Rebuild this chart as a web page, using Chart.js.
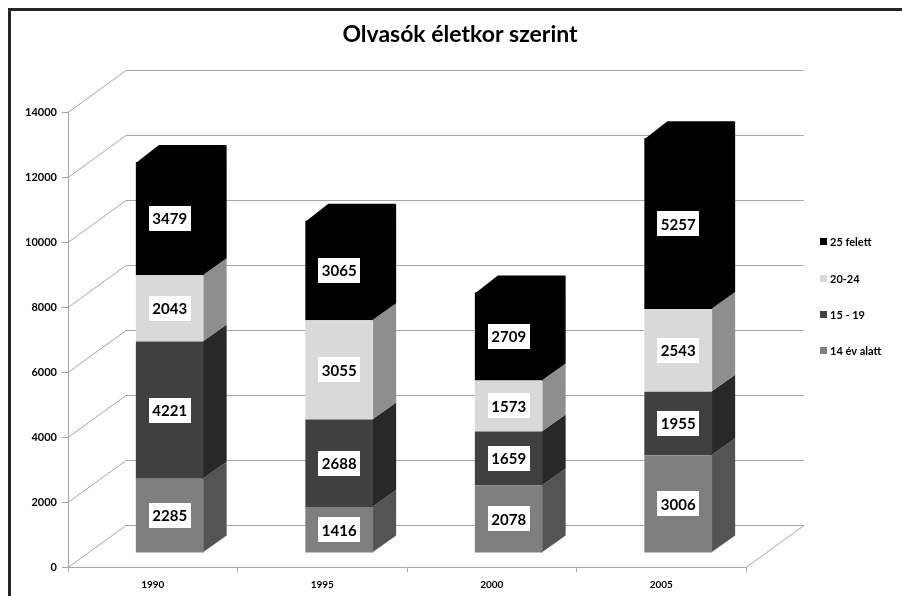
<!DOCTYPE html>
<html>
<head>
<meta charset="utf-8">
<script src="https://cdn.jsdelivr.net/npm/chart.js@4.4.1/dist/chart.umd.min.js"></script>
<style>
  html, body { margin: 0; padding: 0; background: #ffffff; }
  #wrap { position: relative; width: 902px; height: 596px; }
</style>
</head>
<body>
<div id="wrap"><canvas id="chart" width="902" height="596"></canvas></div>
<script>
// Data
const years = ["1990", "1995", "2000", "2005"];
const under14 = [2285, 1416, 2078, 3006];
const age15to19 = [4221, 2688, 1659, 1955];
const age20to24 = [2043, 3055, 1573, 2543];
const over25 = [3479, 3065, 2709, 5257];
const seriesNames = ["14 év alatt", "15 - 19", "20-24", "25 felett"];
const chartTitle = "Olvasók életkor szerint";
const yMax = 14000;
const yStep = 2000;

const COLORS = {
  UNDER14: "#7f7f7f",
  UNDER14_SIDE: "#545454",
  AGE15: "#404040",
  AGE15_SIDE: "#282828",
  AGE20: "#d9d9d9",
  AGE20_SIDE: "#8e8e8e",
  OVER25: "#000000",
  OVER25_SIDE: "#000000",
  GRID: "#a6a6a6",
  FRAME: "#262626",
  TEXT: "#000000",
  WHITE: "#ffffff"
};

const FONT = "Lato, sans-serif";

// fake 3D offsets (Excel style perspective)
const WALL_DEPTH = { x: 58, y: -42 };
const BAR_SHIFT = { x: 17, y: -14 };
const BAR_DEPTH = { x: 23, y: -17 };

const threeDPlugin = {
  id: "threeD",

  beforeDraw(chart) {
    const ctx = chart.ctx;
    ctx.save();
    ctx.fillStyle = COLORS.WHITE;
    ctx.fillRect(0, 0, chart.width, chart.height);
    ctx.fillStyle = COLORS.FRAME;
    ctx.fillRect(8, 8, chart.width, 3);
    ctx.fillRect(8, 8, 3, chart.height);

    // title, centred on the whole frame
    ctx.font = "bold 23px " + FONT;
    ctx.textAlign = "center";
    ctx.textBaseline = "alphabetic";
    ctx.fillStyle = COLORS.TEXT;
    ctx.fillText(chartTitle, 460, 42);
    ctx.restore();
  },

  beforeDatasetsDraw(chart) {
    const ctx = chart.ctx;
    const area = chart.chartArea;
    const yScale = chart.scales.y;

    // side wall + back wall gridlines
    ctx.save();
    ctx.strokeStyle = COLORS.GRID;
    ctx.lineWidth = 1;
    ctx.beginPath();
    yScale.ticks.forEach((tick) => {
      const py = Math.round(yScale.getPixelForValue(tick.value)) + 0.5;
      ctx.moveTo(area.left, py);
      ctx.lineTo(area.left + WALL_DEPTH.x, py + WALL_DEPTH.y);
      ctx.lineTo(area.right + WALL_DEPTH.x, py + WALL_DEPTH.y);
    });
    const floor = Math.round(yScale.getPixelForValue(0)) + 0.5;
    ctx.moveTo(area.right, floor);
    ctx.lineTo(area.right + WALL_DEPTH.x, floor + WALL_DEPTH.y);
    ctx.stroke();
    ctx.restore();

    // bars stand in the middle of the floor
    ctx.save();
    ctx.translate(BAR_SHIFT.x, BAR_SHIFT.y);

    const lastIndex = chart.data.datasets.length - 1;
    chart.data.datasets.forEach((dataset, i) => {
      const meta = chart.getDatasetMeta(i);
      meta.data.forEach((bar) => {
        const { x, y, base, width } = bar.getProps(["x", "y", "base", "width"], true);
        const left = x - width / 2;
        const right = x + width / 2;

        ctx.fillStyle = dataset.sideColor;
        ctx.beginPath();
        ctx.moveTo(right - 1, base);
        ctx.lineTo(right - 1, y);
        ctx.lineTo(right + BAR_DEPTH.x, y + BAR_DEPTH.y);
        ctx.lineTo(right + BAR_DEPTH.x, base + BAR_DEPTH.y);
        ctx.closePath();
        ctx.fill();

        if (i === lastIndex) {
          ctx.fillStyle = dataset.backgroundColor;
          ctx.beginPath();
          ctx.moveTo(left, y + 1);
          ctx.lineTo(left + BAR_DEPTH.x, y + BAR_DEPTH.y);
          ctx.lineTo(right + BAR_DEPTH.x, y + BAR_DEPTH.y);
          ctx.lineTo(right, y + 1);
          ctx.closePath();
          ctx.fill();
        }
      });
    });
  },

  afterDatasetsDraw(chart) {
    const ctx = chart.ctx;

    // value boxes
    ctx.font = "bold 15px " + FONT;
    ctx.textAlign = "center";
    ctx.textBaseline = "middle";
    chart.data.datasets.forEach((dataset, i) => {
      const meta = chart.getDatasetMeta(i);
      meta.data.forEach((bar, j) => {
        const { x, y, base } = bar.getProps(["x", "y", "base"], true);
        const text = String(dataset.data[j]);
        const cy = (y + base) / 2;
        const w = ctx.measureText(text).width + 7;
        const h = 25;
        ctx.fillStyle = COLORS.WHITE;
        ctx.fillRect(Math.round(x - w / 2), Math.round(cy - h / 2), Math.round(w), h);
        ctx.fillStyle = COLORS.TEXT;
        ctx.fillText(text, x, cy + 1);
      });
    });

    ctx.restore();
  },

  afterDraw(chart) {
    // legend, top series first
    const ctx = chart.ctx;
    const items = chart.data.datasets.slice().reverse();
    const legendX = 820;
    const legendY = [242, 279, 315, 351];
    ctx.save();
    ctx.font = "bold 11px " + FONT;
    ctx.textAlign = "left";
    ctx.textBaseline = "middle";
    items.forEach((dataset, k) => {
      ctx.fillStyle = dataset.backgroundColor;
      ctx.fillRect(legendX, legendY[k] - 4, 7, 7);
      ctx.fillStyle = COLORS.TEXT;
      ctx.fillText(dataset.label, legendX + 10, legendY[k]);
    });
    ctx.restore();
  }
};

Chart.defaults.font.family = FONT;

new Chart(document.getElementById("chart").getContext("2d"), {
  type: "bar",
  data: {
    labels: years,
    datasets: [
      { label: seriesNames[0], data: under14, backgroundColor: COLORS.UNDER14, sideColor: COLORS.UNDER14_SIDE },
      { label: seriesNames[1], data: age15to19, backgroundColor: COLORS.AGE15, sideColor: COLORS.AGE15_SIDE },
      { label: seriesNames[2], data: age20to24, backgroundColor: COLORS.AGE20, sideColor: COLORS.AGE20_SIDE },
      { label: seriesNames[3], data: over25, backgroundColor: COLORS.OVER25, sideColor: COLORS.OVER25_SIDE }
    ]
  },
  options: {
    responsive: false,
    devicePixelRatio: 1,
    animation: false,
    borderWidth: 0,
    barPercentage: 0.4,
    categoryPercentage: 1.0,
    clip: false,
    layout: {
      padding: { left: 0, right: 156, top: 112, bottom: 0 }
    },
    plugins: {
      legend: { display: false },
      tooltip: { enabled: false },
      title: { display: false }
    },
    scales: {
      x: {
        stacked: true,
        afterFit(scale) {
          scale.height = 29;
        },
        grid: {
          drawOnChartArea: false,
          tickLength: 5,
          color: COLORS.GRID
        },
        border: { color: COLORS.GRID },
        ticks: {
          padding: 7,
          color: COLORS.TEXT,
          font: { family: FONT, size: 10, weight: "bold" }
        }
      },
      y: {
        stacked: true,
        min: 0,
        max: yMax,
        afterFit(scale) {
          scale.width = 68;
        },
        grid: {
          drawOnChartArea: false,
          tickLength: 6,
          color: COLORS.GRID
        },
        border: { color: COLORS.GRID },
        ticks: {
          stepSize: yStep,
          padding: 5,
          color: COLORS.TEXT,
          font: { family: FONT, size: 11, weight: "bold" },
          callback: (value) => String(value)
        }
      }
    }
  },
  plugins: [threeDPlugin]
});
</script>
</body>
</html>
